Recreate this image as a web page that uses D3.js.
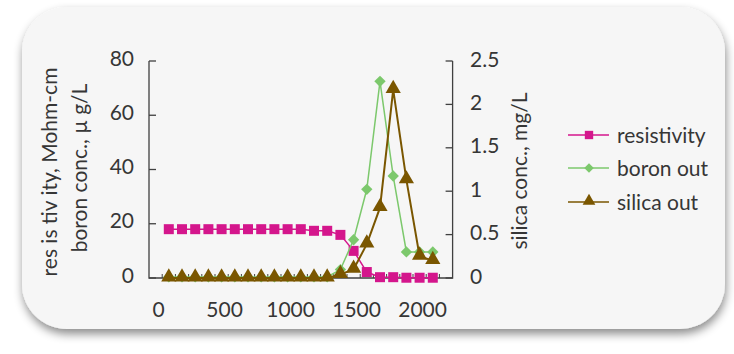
<!DOCTYPE html>
<html><head><meta charset="utf-8">
<script src="https://cdn.jsdelivr.net/npm/d3@7/dist/d3.min.js"></script>
<style>html,body{margin:0;padding:0;background:#fff;}svg{display:block;}</style>
</head><body>
<script>
const xValues = [100,200,300,400,500,600,700,800,900,1000,1100,1200,1300,1400,1500,1600,1700,1800,1900,2000,2100];
const resistivity = [18,18,18,18,18,18,18,18,18,18,18,17.4,17.4,15.9,10,2.2,0.3,0.3,0.1,0.1,0.1];
const boronOut = [0.4,0.4,0.4,0.4,0.4,0.4,0.4,0.4,0.4,0.4,0.4,0.4,0.4,3.1,14.1,32.7,72.5,37.6,9.6,9.6,9.6];
const silicaOut = [0,0,0,0,0,0,0,0,0,0,0,0,0,0.04,0.1,0.39,0.81,2.17,1.13,0.25,0.2];
const xTickLabels = [0,500,1000,1500,2000];
const leftTicks = [0,20,40,60,80];
const rightTicks = [0,0.5,1,1.5,2,2.5];
const seriesNames = ["resistivity","boron out","silica out"];
const seriesColors = ["#d4168c","#7cc86c","#7a5600"];

const W=734,H=354;
const FONT = "Lato, 'Open Sans', sans-serif";
const svg = d3.select("body").append("svg").attr("width",W).attr("height",H);
const defs = svg.append("defs");
const f = defs.append("filter").attr("id","sh").attr("x","-10%").attr("y","-10%").attr("width","120%").attr("height","130%");
f.append("feDropShadow").attr("dx",1).attr("dy",5).attr("stdDeviation",5).attr("flood-color","#000").attr("flood-opacity",0.45);
svg.append("rect").attr("x",22).attr("y",7).attr("width",703).attr("height",322).attr("rx",45).attr("ry",45)
  .attr("fill","#f6f6f6").attr("filter","url(#sh)");

const x = d3.scaleLinear().domain([-50,2250]).range([149,452.6]);
const yL = d3.scaleLinear().domain([0,80]).range([278,61]);
const yR = d3.scaleLinear().domain([0,2.5]).range([278,61]);
const axisColor="#404040", textColor="#363636";
const FS = 21;

const g = svg.append("g");
g.append("path").attr("d",`M${x(-50)},${yL(80)}V${yL(0)}H${x(2250)}V${yR(2.5)}`).attr("fill","none").attr("stroke",axisColor).attr("stroke-width",1.3);
leftTicks.forEach(v=>{
  g.append("line").attr("x1",x(-50)).attr("x2",x(-50)+7).attr("y1",yL(v)).attr("y2",yL(v)).attr("stroke",axisColor).attr("stroke-width",1.3);
  g.append("text").attr("x",134).attr("y",yL(v)-4).attr("text-anchor","end").attr("dominant-baseline","central")
   .attr("font-family",FONT).attr("font-size",FS).attr("fill",textColor).text(v);
});
rightTicks.forEach(v=>{
  g.append("line").attr("x1",x(2250)).attr("x2",x(2250)-7).attr("y1",yR(v)).attr("y2",yR(v)).attr("stroke",axisColor).attr("stroke-width",1.3);
  g.append("text").attr("x",470).attr("y",yR(v)-3).attr("text-anchor","start").attr("dominant-baseline","central")
   .attr("font-family",FONT).attr("font-size",FS).attr("fill",textColor).text(v);
});
d3.range(50,2200,100).forEach(v=>{
  g.append("line").attr("x1",x(v)).attr("x2",x(v)).attr("y1",yL(0)).attr("y2",yL(0)-4).attr("stroke",axisColor).attr("stroke-width",1);
});
xTickLabels.forEach(v=>{
  g.append("text").attr("x",x(v)+3).attr("y",317).attr("text-anchor","middle")
   .attr("font-family",FONT).attr("font-size",FS).attr("fill",textColor).text(v);
});
g.append("text").attr("transform","translate(57,172) rotate(-90)").attr("text-anchor","middle")
  .attr("font-family",FONT).attr("font-size",FS).attr("fill",textColor).text("res is tiv ity, Mohm-cm");
g.append("text").attr("transform","translate(87,168) rotate(-90)").attr("text-anchor","middle")
  .attr("font-family",FONT).attr("font-size",FS).attr("fill",textColor).text("boron conc., µ g/L");
g.append("text").attr("transform","translate(527,171) rotate(-90)").attr("text-anchor","middle")
  .attr("font-family",FONT).attr("font-size",FS).attr("fill",textColor).text("silica conc., mg/L");

const sym = [d3.symbolSquare, d3.symbolSquare, d3.symbolTriangle];
const rot = [0, 45, 0];
const symSize = [100, 64, 100];
const lineW = [1.5,1.5,2];
const data = [
  xValues.map((v,i)=>[x(v), yL(resistivity[i])]),
  xValues.map((v,i)=>[x(v), yL(boronOut[i])]),
  xValues.map((v,i)=>[x(v), yR(silicaOut[i])])
];
data.forEach((pts,s)=>{
  g.append("path").attr("d",d3.line()(pts)).attr("fill","none").attr("stroke",seriesColors[s]).attr("stroke-width",lineW[s]);
  g.selectAll(null).data(pts).enter().append("path")
   .attr("transform",d=>`translate(${d[0]},${d[1] + (s===2?-1:0)}) rotate(${rot[s]})`)
   .attr("d",d3.symbol().type(sym[s]).size(symSize[s])).attr("fill",seriesColors[s]);
});

const legY=[135,168,202];
seriesNames.forEach((n,i)=>{
  const lg = svg.append("g");
  lg.append("line").attr("x1",568).attr("x2",609).attr("y1",legY[i]).attr("y2",legY[i]).attr("stroke",seriesColors[i]).attr("stroke-width",1.5);
  lg.append("path").attr("transform",`translate(589,${legY[i] + (i===2?-1:0)}) rotate(${rot[i]})`).attr("d",d3.symbol().type(sym[i]).size(symSize[i]*0.7)).attr("fill",seriesColors[i]);
  lg.append("text").attr("x",617).attr("y",legY[i]-1).attr("dominant-baseline","central")
    .attr("font-family",FONT).attr("font-size",FS).attr("fill",textColor).text(n);
});
</script>
</body></html>
